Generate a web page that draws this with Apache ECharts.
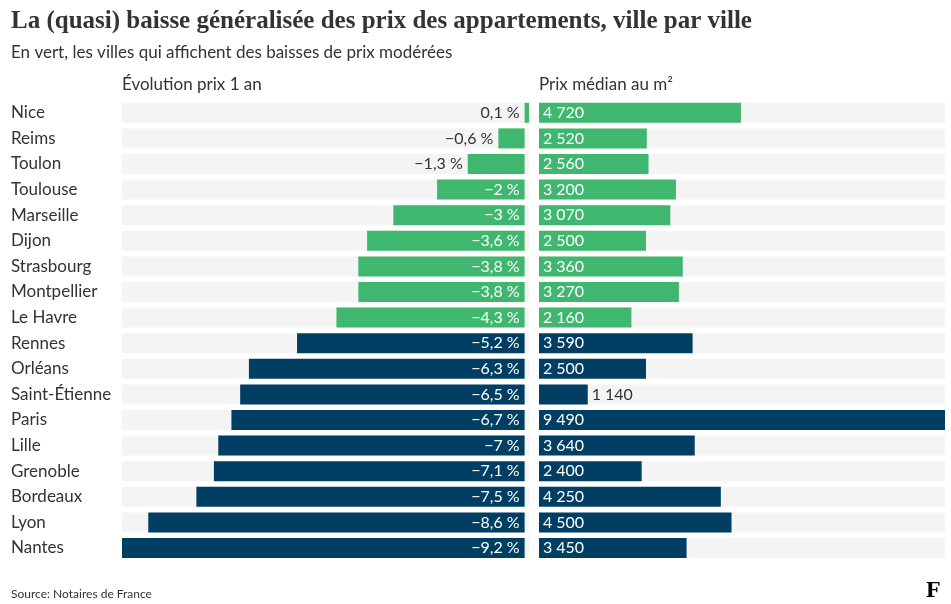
<!DOCTYPE html>
<html><head><meta charset="utf-8">
<script src="https://cdn.jsdelivr.net/npm/echarts@6/dist/echarts.min.js"></script>
<style>html,body{margin:0;padding:0;background:#fff}#c{width:951px;height:604px}</style>
</head><body><div id="c"></div>
<script>
const cities = ['Nice','Reims','Toulon','Toulouse','Marseille','Dijon','Strasbourg','Montpellier','Le Havre','Rennes','Orléans','Saint-Étienne','Paris','Lille','Grenoble','Bordeaux','Lyon','Nantes'];
const evolution = [0.1,-0.6,-1.3,-2,-3,-3.6,-3.8,-3.8,-4.3,-5.2,-6.3,-6.5,-6.7,-7,-7.1,-7.5,-8.6,-9.2];
const prix = [4720,2520,2560,3200,3070,2500,3360,3270,2160,3590,2500,1140,9490,3640,2400,4250,4500,3450];
const moderate = [true,true,true,true,true,true,true,true,true,false,false,false,false,false,false,false,false,false];
const outsideEvo = ['Nice','Reims','Toulon'];
const outsidePrix = ['Saint-Étienne'];

const GREEN = '#3fb76f', NAVY = '#003f63', BG = '#f4f4f4', TXT = '#333';
const FONT = 'Lato, "Noto Sans", sans-serif';

function fmtPct(v){ const s = Math.abs(v).toString().replace('.', ','); return (v < 0 ? '\u2212' : '') + s + ' %'; }
function fmtPrix(v){ return v.toString().replace(/\B(?=(\d{3})+(?!\d))/g, '\u202f'); }

const evoData = evolution.map((v,i)=>{
  const out = outsideEvo.includes(cities[i]);
  return { value: v, itemStyle:{color: moderate[i]?GREEN:NAVY},
    label:{ position: out?'left':'insideRight', color: out?TXT:'#fff' } };
});
const prixData = prix.map((v,i)=>{
  const out = outsidePrix.includes(cities[i]);
  return { value: v, itemStyle:{color: moderate[i]?GREEN:NAVY},
    label:{ position: out?'right':'insideLeft', color: out?TXT:'#fff' } };
});

const chart = echarts.init(document.getElementById('c'), null, {renderer:'canvas'});
const gTop = 100, gH = 460.8;
const sub = (size)=>({fontFamily:FONT, fontWeight:'normal', fontSize:size, color:TXT});
chart.setOption({
  animation:false,
  textStyle:{fontFamily:FONT},
  title:[
    {text:'La (quasi) baisse généralisée des prix des appartements, ville par ville', left:11, top:9, padding:0,
     textStyle:{fontFamily:'"Liberation Serif", serif', fontWeight:'bold', fontSize:25, color:'#333'}},
    {text:'En vert, les villes qui affichent des baisses de prix modérées', left:11, top:44, padding:0, textStyle:sub(17)},
    {text:'Évolution prix 1 an', left:122, top:76, padding:0, textStyle:sub(17)},
    {text:'Prix médian au m²', left:539, top:76, padding:0, textStyle:sub(17)},
    {text:'Source: Notaires de France', left:11, top:588, padding:0, textStyle:sub(12)},
    {text:'F', left:926, top:579, padding:0, textStyle:{fontFamily:'"Liberation Serif", serif', fontWeight:'bold', fontSize:24, color:'#000'}}
  ],
  grid:[
    {left:122, top:gTop, width:407, height:gH},
    {left:539, top:gTop, width:406, height:gH}
  ],
  xAxis:[
    {gridIndex:0, type:'value', min:-9.2, max:0.1, show:false},
    {gridIndex:1, type:'value', min:0, max:9490, show:false}
  ],
  yAxis:[
    {gridIndex:0, type:'category', data:cities, inverse:true, axisLine:{show:false}, axisTick:{show:false},
     axisLabel:{align:'left', margin:111, fontSize:17, color:TXT, fontFamily:FONT}},
    {gridIndex:1, type:'category', data:cities, inverse:true, show:false}
  ],
  series:[
    {type:'bar', xAxisIndex:0, yAxisIndex:0, data:evoData, barWidth:20,
     showBackground:true, backgroundStyle:{color:BG},
     label:{show:true, fontSize:16, fontFamily:FONT, distance:5, formatter:p=>fmtPct(p.value)}},
    {type:'bar', xAxisIndex:1, yAxisIndex:1, data:prixData, barWidth:20,
     showBackground:true, backgroundStyle:{color:BG},
     label:{show:true, fontSize:16, fontFamily:FONT, distance:4, formatter:p=>fmtPrix(p.value)}}
  ]
});
</script></body></html>
